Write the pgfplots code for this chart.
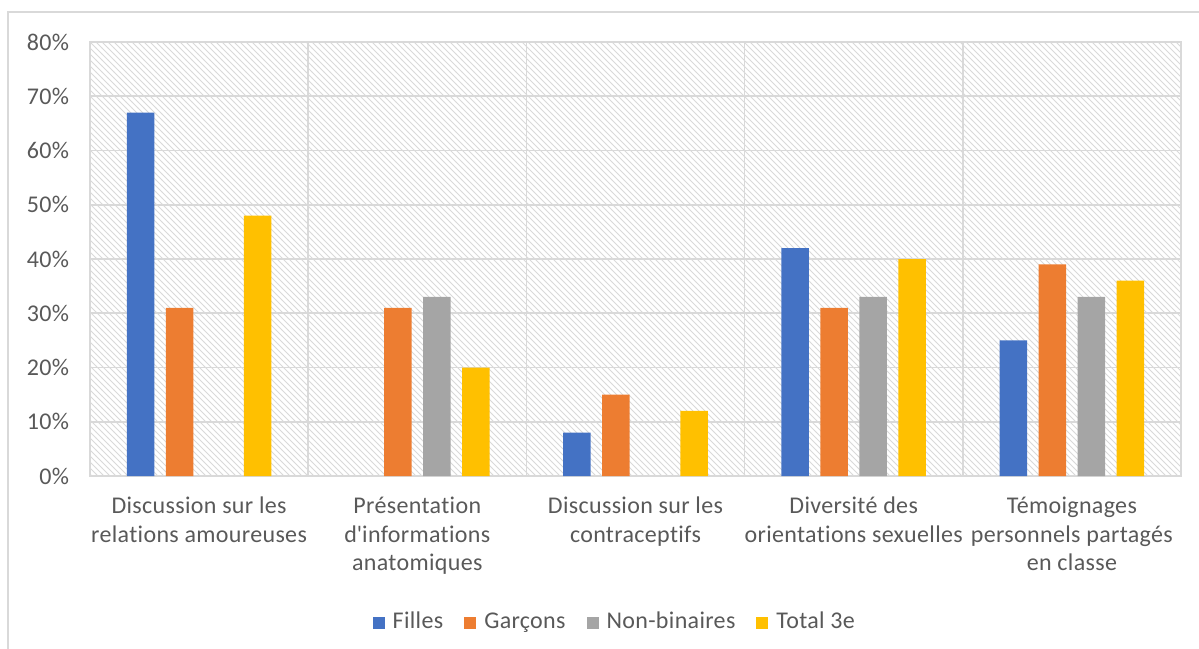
\documentclass[border=0pt]{standalone}
\usepackage{pgfplots}
\pgfplotsset{compat=1.18}
\usepackage{fontspec}
\setmainfont[LetterSpace=1.4, Ligatures={TeX,NoCommon}]{Carlito}
\usetikzlibrary{patterns}
\definecolor{cBlue}{HTML}{4472C4}
\definecolor{cOrange}{HTML}{ED7D31}
\definecolor{cGray}{HTML}{A5A5A5}
\definecolor{cYellow}{HTML}{FFC000}
\definecolor{cText}{HTML}{595959}
\definecolor{cGrid}{HTML}{D9D9D9}
\begin{document}
\begin{tikzpicture}
\path[use as bounding box] (-45pt,-86pt) rectangle (554.5pt,238pt);
\draw[cGrid, line width=0.8pt] (-41pt,-95pt) -- (-41pt,232pt) -- (565pt,232pt);
\begin{axis}[
  at={(0,0)}, anchor=south west,
  scale only axis,
  width=545.5pt, height=217pt,
  ybar=5.75pt, bar width=13.75pt,
  xmin=-0.5, xmax=4.5,
  ymin=0, ymax=80,
  ytick={0,10,...,80},
  yticklabel={\pgfmathprintnumber{\tick}\%},
  xtick={0,1,2,3,4},
  xticklabels={
    {Discussion sur les\\relations amoureuses},
    {Présentation\\d\textquotesingle informations\\anatomiques},
    {Discussion sur les\\contraceptifs},
    {Diversité des\\orientations sexuelles},
    {Témoignages\\personnels partagés\\en classe}},
  minor xtick={0.5,1.5,2.5,3.5},
  major tick length=0pt, minor tick length=0pt,
  ymajorgrids, xminorgrids,
  grid style={cGrid, line width=0.8pt},
  minor grid style={cGrid, line width=0.8pt},
  axis line style={cGrid, line width=0.8pt},
  axis background/.style={pattern=north west lines, pattern color=black!15},
  tick label style={font=\fontsize{12}{14.3}\selectfont, text=cText},
  /pgf/number format/assume math mode=true,
  yticklabel style={xshift=-7pt},
  xticklabel style={align=center, yshift=-7pt},
  legend columns=4,
  legend style={at={(0.482,-0.339)}, anchor=center, draw=none,
    font=\fontsize{12}{13}\selectfont, text=cText,
    nodes={text height=0.7em, text depth=0.2em},
    /tikz/every even column/.append style={column sep=8.5pt}},
  legend image code/.code={\fill[#1, draw=none] (0pt,-3pt) rectangle (6pt,3pt); \path (8pt,0pt);},
]
\addplot[fill=cBlue, draw=none] coordinates {(0,67) (2,8) (3,42) (4,25)};
\addplot[fill=cOrange, draw=none] coordinates {(0,31) (1,31) (2,15) (3,31) (4,39)};
\addplot[fill=cGray, draw=none] coordinates {(1,33) (3,33) (4,33)};
\addplot[fill=cYellow, draw=none] coordinates {(0,48) (1,20) (2,12) (3,40) (4,36)};
\legend{Filles, Garçons, Non-binaires, Total 3e}
\end{axis}
\end{tikzpicture}
\end{document}
